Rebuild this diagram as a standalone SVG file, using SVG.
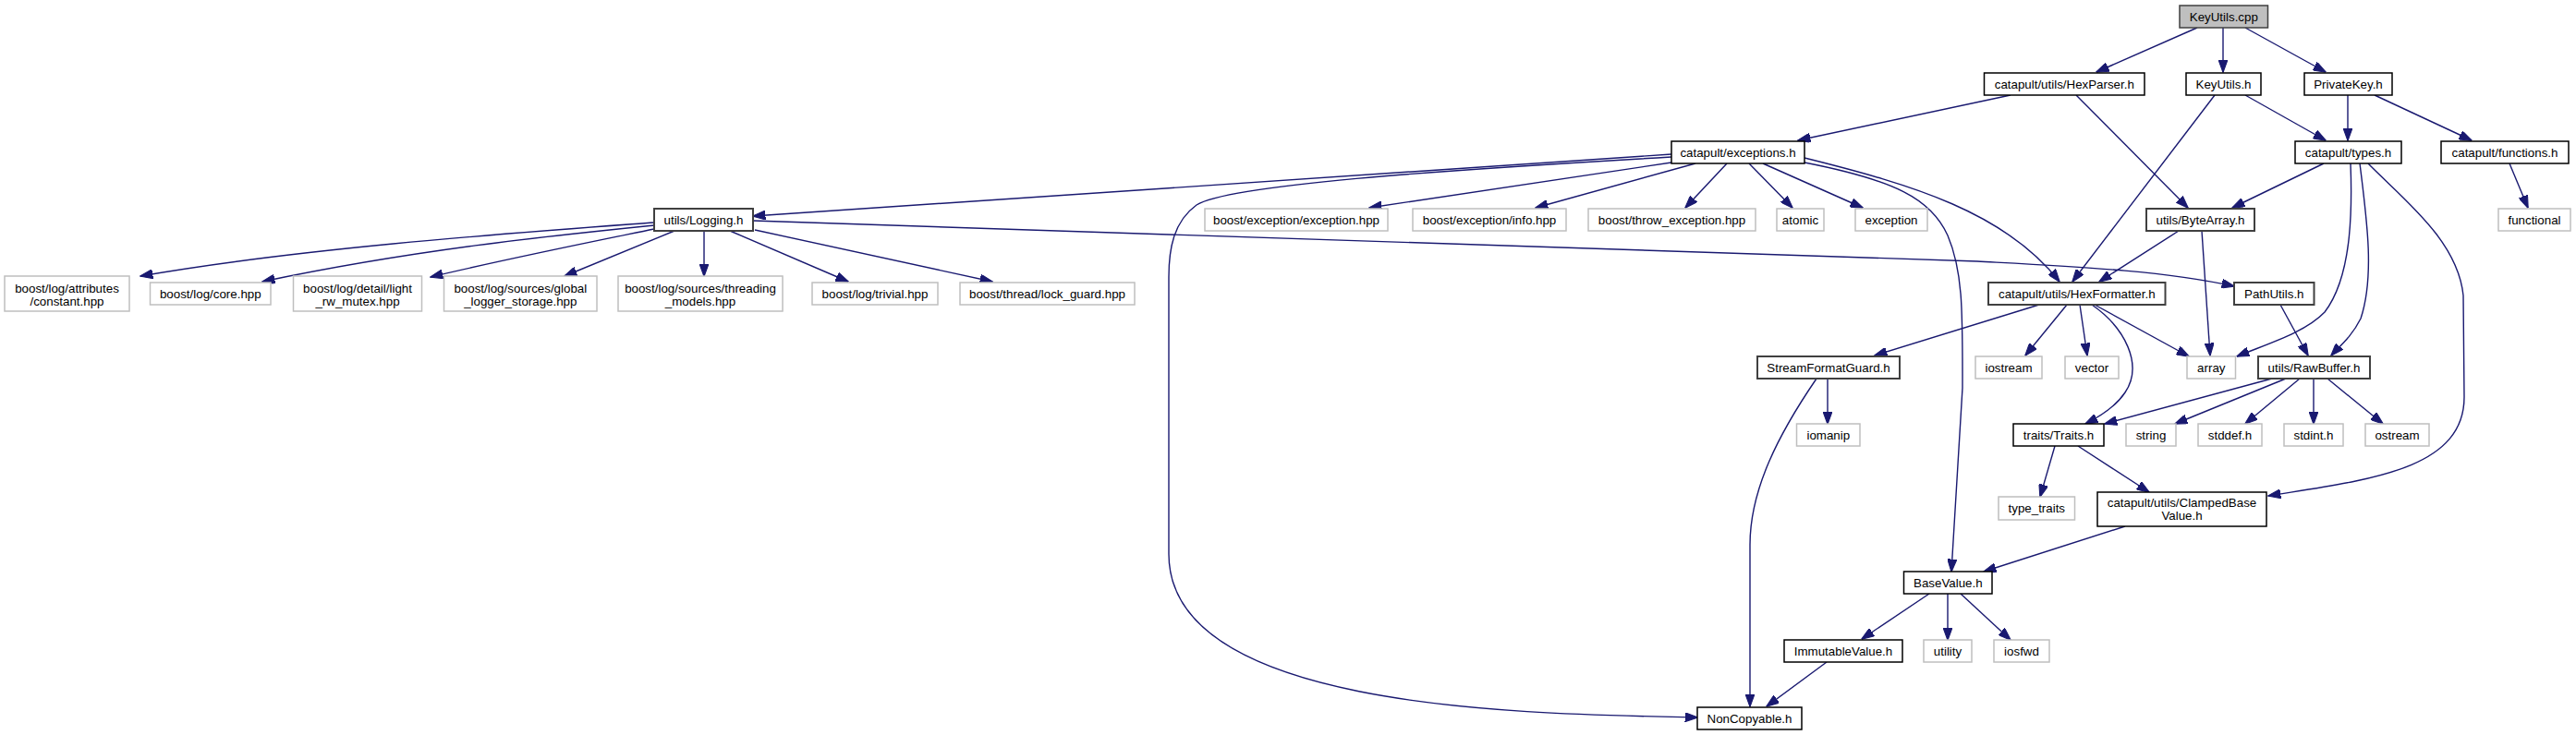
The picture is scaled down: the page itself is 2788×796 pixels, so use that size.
<svg xmlns="http://www.w3.org/2000/svg" width="2788" height="796" viewBox="0 0 2788 796">
<style>
.b{fill:#fff;stroke:#000;stroke-width:1.5}
.d{fill:#fff;stroke:#404040;stroke-width:2}
.s{fill:#fff;stroke:#bfbfbf;stroke-width:1.5}
.r{fill:#bfbfbf;stroke:#404040;stroke-width:1.5}
text{font-family:"Liberation Sans",Arial,sans-serif;font-size:13.33px;fill:#000;text-anchor:middle}
.e path{fill:none;stroke:#191970;stroke-width:1.4;marker-end:url(#ah)}
</style>
<defs>
<marker id="ah" markerUnits="userSpaceOnUse" markerWidth="14" markerHeight="10" viewBox="0 0 13 9.4" refX="12.5" refY="4.7" orient="auto">
<path d="M0,0 L13,4.7 L0,9.4 Z" fill="#191970" stroke="#191970" stroke-width="1"/>
</marker>
</defs>
<rect width="2788" height="796" fill="#fff"/>
<g class="e" id="edges">
<path d="M2378,30 L2269,78"/>
<path d="M2406,30 L2406,78"/>
<path d="M2430,30 L2517,78"/>
<path d="M2176,103 L1946,152"/>
<path d="M2247,103 L2368,225"/>
<path d="M2397,103 L2243,305"/>
<path d="M2430,103 L2517,152"/>
<path d="M2541,103 L2541,152"/>
<path d="M2570,103 L2675,152"/>
<path d="M2716,177 L2736,225"/>
<path d="M2515,177 L2416,225"/>
<path d="M2544,177 C2546,230 2545,300 2516,338 C2495,360 2455,372 2421,386"/>
<path d="M2554,177 C2562,240 2570,300 2555,345 C2545,365 2532,375 2523,385"/>
<path d="M2563,177 C2600,215 2660,260 2666,320 L2667,430 C2667,510 2560,520 2455,537"/>
<path d="M1809,167 L815,234"/>
<path d="M1809,176 L1482,225"/>
<path d="M1835,177 L1662,225"/>
<path d="M1869,177 L1824,225"/>
<path d="M1893,177 L1940,225"/>
<path d="M1908,177 L2016,225"/>
<path d="M1953,171 C2070,200 2170,230 2229,305"/>
<path d="M1953,176 C2050,195 2090,215 2108,255 C2125,295 2124,340 2124,420 L2112,619"/>
<path d="M1809,170 C1550,185 1330,200 1295,222 C1270,240 1265,270 1265,300 L1265,600 C1265,770 1650,773 1837,777"/>
<path d="M708,241 C560,252 330,268 152,299"/>
<path d="M708,244 C600,255 450,270 284,305"/>
<path d="M708,248 C640,262 550,280 466,300"/>
<path d="M730,250 L611,299"/>
<path d="M762,250 L762,299"/>
<path d="M790,250 L918,305"/>
<path d="M817,249 L1074,305"/>
<path d="M815,239 L2140,283 C2250,289 2340,293 2418,310"/>
<path d="M2358,250 L2272,305"/>
<path d="M2383,250 L2392,385"/>
<path d="M2207,330 L2029,385"/>
<path d="M2237,330 L2192,385"/>
<path d="M2251,330 L2259,385"/>
<path d="M2267,330 L2369,386"/>
<path d="M2264,330 C2300,355 2320,395 2300,425 C2290,440 2275,450 2257,459"/>
<path d="M2468,330 L2498,385"/>
<path d="M2459,410 L2278,459"/>
<path d="M2474,410 L2354,459"/>
<path d="M2489,410 L2430,459"/>
<path d="M2504,410 L2504,459"/>
<path d="M2519,410 L2579,459"/>
<path d="M1978,410 L1978,459"/>
<path d="M1966,410 C1925,470 1894,530 1894,590 L1894,765"/>
<path d="M2224,483 L2208,538"/>
<path d="M2249,483 L2326,533"/>
<path d="M2300,570 L2147,619"/>
<path d="M2088,643 L2015,692"/>
<path d="M2108,643 L2108,693"/>
<path d="M2122,643 L2176,693"/>
<path d="M1977,717 L1912,765"/>
</g>
<g id="n_keyutils_cpp"><rect class="r" x="2359" y="6" width="95.5" height="24"/><text x="2406.8" y="22.8">KeyUtils.cpp</text></g>
<g id="n_hexparser"><rect class="b" x="2147.5" y="79" width="173.5" height="24"/><text x="2234.3" y="95.8">catapult/utils/HexParser.h</text></g>
<g id="n_keyutils_h"><rect class="b" x="2366" y="79" width="81" height="24"/><text x="2406.5" y="95.8">KeyUtils.h</text></g>
<g id="n_privatekey"><rect class="b" x="2494" y="79" width="95" height="24"/><text x="2541.5" y="95.8">PrivateKey.h</text></g>
<g id="n_exceptions"><rect class="b" x="1809" y="153" width="144" height="24"/><text x="1881" y="169.8">catapult/exceptions.h</text></g>
<g id="n_types"><rect class="b" x="2484" y="153" width="115" height="24"/><text x="2541.5" y="169.8">catapult/types.h</text></g>
<g id="n_functions"><rect class="b" x="2642" y="153" width="138" height="24"/><text x="2711" y="169.8">catapult/functions.h</text></g>
<g id="n_logging"><rect class="d" x="708" y="226" width="107" height="24"/><text x="761.5" y="242.8">utils/Logging.h</text></g>
<g id="n_exc_hpp"><rect class="s" x="1304" y="226" width="198" height="24"/><text x="1403" y="242.8">boost/exception/exception.hpp</text></g>
<g id="n_info_hpp"><rect class="s" x="1529" y="226" width="166" height="24"/><text x="1612" y="242.8">boost/exception/info.hpp</text></g>
<g id="n_throw"><rect class="s" x="1719" y="226" width="181" height="24"/><text x="1809.5" y="242.8">boost/throw_exception.hpp</text></g>
<g id="n_atomic"><rect class="s" x="1923" y="226" width="51" height="24"/><text x="1948.5" y="242.8">atomic</text></g>
<g id="n_exception"><rect class="s" x="2008" y="226" width="78" height="24"/><text x="2047" y="242.8">exception</text></g>
<g id="n_bytearray"><rect class="d" x="2323" y="226" width="117" height="24"/><text x="2381.5" y="242.8">utils/ByteArray.h</text></g>
<g id="n_functional"><rect class="s" x="2704" y="226" width="78" height="24"/><text x="2743" y="242.8">functional</text></g>
<g id="n_constant"><rect class="s" x="5" y="299" width="135" height="38"/><text x="72.5" y="316.5">boost/log/attributes</text><text x="72.5" y="331">/constant.hpp</text></g>
<g id="n_core"><rect class="s" x="162.5" y="306" width="130.5" height="24"/><text x="227.8" y="322.8">boost/log/core.hpp</text></g>
<g id="n_light"><rect class="s" x="317.5" y="299" width="139" height="38"/><text x="387" y="316.5">boost/log/detail/light</text><text x="387" y="331">_rw_mutex.hpp</text></g>
<g id="n_global"><rect class="s" x="480.5" y="299" width="165.5" height="38"/><text x="563.3" y="316.5">boost/log/sources/global</text><text x="563.3" y="331">_logger_storage.hpp</text></g>
<g id="n_threading"><rect class="s" x="669" y="299" width="178" height="38"/><text x="758" y="316.5">boost/log/sources/threading</text><text x="758" y="331">_models.hpp</text></g>
<g id="n_trivial"><rect class="s" x="879" y="306" width="136" height="24"/><text x="947" y="322.8">boost/log/trivial.hpp</text></g>
<g id="n_lockguard"><rect class="s" x="1039" y="306" width="189" height="24"/><text x="1133.5" y="322.8">boost/thread/lock_guard.hpp</text></g>
<g id="n_hexformatter"><rect class="d" x="2152" y="306" width="191.5" height="24"/><text x="2247.8" y="322.8">catapult/utils/HexFormatter.h</text></g>
<g id="n_pathutils"><rect class="d" x="2418" y="306" width="86.5" height="24"/><text x="2461.3" y="322.8">PathUtils.h</text></g>
<g id="n_sfg"><rect class="d" x="1902" y="386" width="154" height="24"/><text x="1979" y="402.8">StreamFormatGuard.h</text></g>
<g id="n_iostream"><rect class="s" x="2138" y="386" width="72" height="24"/><text x="2174" y="402.8">iostream</text></g>
<g id="n_vector"><rect class="s" x="2235" y="386" width="58" height="24"/><text x="2264" y="402.8">vector</text></g>
<g id="n_array"><rect class="s" x="2367" y="386" width="52.5" height="24"/><text x="2393.3" y="402.8">array</text></g>
<g id="n_rawbuffer"><rect class="d" x="2444" y="386" width="121" height="24"/><text x="2504.5" y="402.8">utils/RawBuffer.h</text></g>
<g id="n_iomanip"><rect class="s" x="1944.5" y="459" width="68.5" height="24"/><text x="1978.8" y="475.8">iomanip</text></g>
<g id="n_traits"><rect class="b" x="2179" y="459" width="98" height="24"/><text x="2228" y="475.8">traits/Traits.h</text></g>
<g id="n_string"><rect class="s" x="2301" y="459" width="54" height="24"/><text x="2328" y="475.8">string</text></g>
<g id="n_stddef"><rect class="s" x="2379" y="459" width="69" height="24"/><text x="2413.5" y="475.8">stddef.h</text></g>
<g id="n_stdint"><rect class="s" x="2472" y="459" width="64" height="24"/><text x="2504" y="475.8">stdint.h</text></g>
<g id="n_ostream"><rect class="s" x="2560" y="459" width="69" height="24"/><text x="2594.5" y="475.8">ostream</text></g>
<g id="n_type_traits"><rect class="s" x="2163" y="538" width="82.5" height="25"/><text x="2204.3" y="555.3">type_traits</text></g>
<g id="n_clamped"><rect class="b" x="2270" y="533" width="183" height="37"/><text x="2361.5" y="549">catapult/utils/ClampedBase</text><text x="2361.5" y="563">Value.h</text></g>
<g id="n_basevalue"><rect class="b" x="2060.5" y="619" width="95.5" height="24"/><text x="2108.3" y="635.8">BaseValue.h</text></g>
<g id="n_immutable"><rect class="b" x="1931" y="693" width="128" height="24"/><text x="1995" y="709.8">ImmutableValue.h</text></g>
<g id="n_utility"><rect class="s" x="2082" y="693" width="52" height="24"/><text x="2108" y="709.8">utility</text></g>
<g id="n_iosfwd"><rect class="s" x="2158" y="693" width="60" height="24"/><text x="2188" y="709.8">iosfwd</text></g>
<g id="n_noncopyable"><rect class="b" x="1837" y="766" width="113" height="24"/><text x="1893.5" y="782.8">NonCopyable.h</text></g>
</svg>
